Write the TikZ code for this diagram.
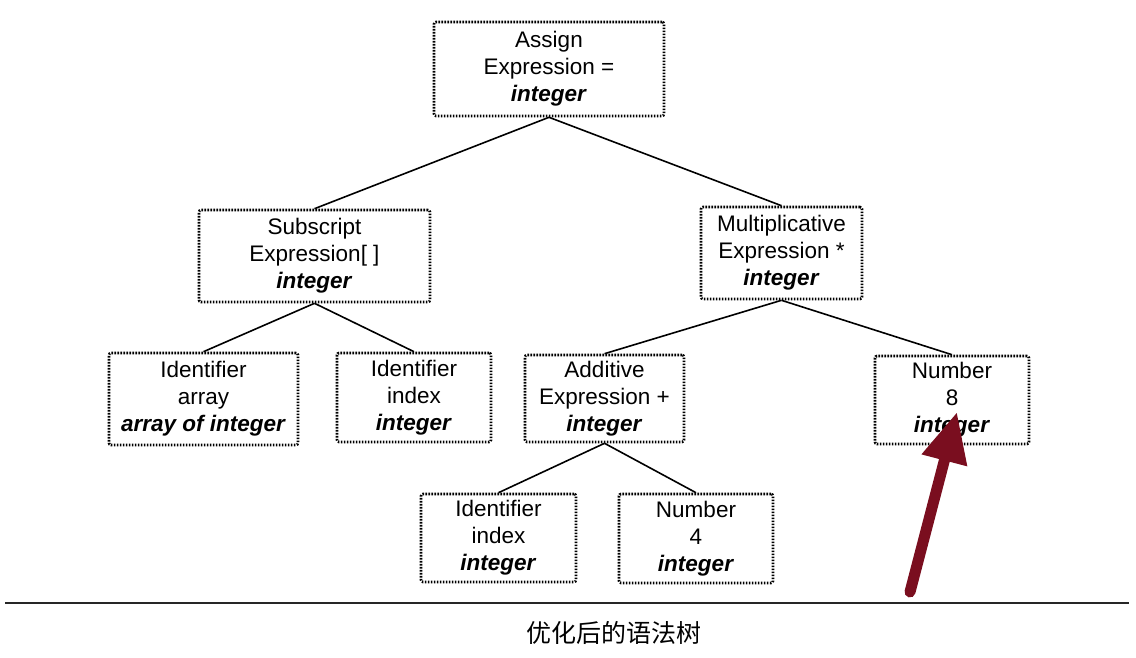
\documentclass[tikz,border=0pt]{standalone}
\usepackage{fontspec}
\setmainfont{Liberation Sans}
\newfontfamily\cjk{Noto Sans CJK SC}
\usetikzlibrary{arrows.meta}
\definecolor{arrowred}{HTML}{7A0E1F}
\tikzset{
  tnode/.style={draw=black, line width=2.6pt, dash pattern=on 1.6pt off 1.4pt,
    rounded corners=2pt, align=center, inner sep=0pt,
    font=\fontsize{22.5}{27}\selectfont},
  edge/.style={line width=1.6pt, black},
}
\newcommand{\ty}[1]{\textbf{\textit{#1}}}
\begin{document}
\begin{tikzpicture}[x=1pt,y=-1pt]
\useasboundingbox (0,0) rectangle (1136,658);
\node[tnode, minimum width=230pt, minimum height=94pt] (assign) at (549,69) {Assign\\Expression =\\\ty{integer}};
\node[tnode, minimum width=231pt, minimum height=92pt] (sub) at (314.5,256) {Subscript\\Expression[ ]\\\ty{integer}};
\node[tnode, minimum width=161pt, minimum height=92pt] (mul) at (781.5,253) {Multiplicative\\Expression *\\\ty{integer}};
\node[tnode, minimum width=189pt, minimum height=92pt] (ida) at (203.5,399) {Identifier\\array\\\ty{array of integer}};
\node[tnode, minimum width=154pt, minimum height=89pt] (idi) at (414,397.5) {Identifier\\index\\\ty{integer}};
\node[tnode, minimum width=159pt, minimum height=87pt] (add) at (604.5,398.5) {Additive\\Expression +\\\ty{integer}};
\node[tnode, minimum width=154pt, minimum height=88pt] (num8) at (952,400) {Number\\8\\\ty{integer}};
\node[tnode, minimum width=155pt, minimum height=88pt] (idb) at (498.5,538) {Identifier\\index\\\ty{integer}};
\node[tnode, minimum width=154pt, minimum height=89pt] (num4) at (696,538.5) {Number\\4\\\ty{integer}};

\draw[edge] (assign.south) -- (sub.north);
\draw[edge] (assign.south) -- (mul.north);
\draw[edge] (sub.south) -- (ida.north);
\draw[edge] (sub.south) -- (idi.north);
\draw[edge] (mul.south) -- (add.north);
\draw[edge] (mul.south) -- (num8.north);
\draw[edge] (add.south) -- (idb.north);
\draw[edge] (add.south) -- (num4.north);

\coordinate (lineL) at (5,603);
\coordinate (lineR) at (1129,603);
\draw[line width=2.2pt, black!85] (lineL) -- (lineR);
\node[font=\cjk\fontsize{25}{28}\selectfont] (cap) at (614,633) {优化后的语法树};

\coordinate (atail) at (910,592);
\coordinate (ahead) at (957,412);
\draw[arrowred, line width=11pt, line cap=round, -{Triangle[length=50pt,width=44pt]}] (atail) -- (ahead);
\end{tikzpicture}
\end{document}
